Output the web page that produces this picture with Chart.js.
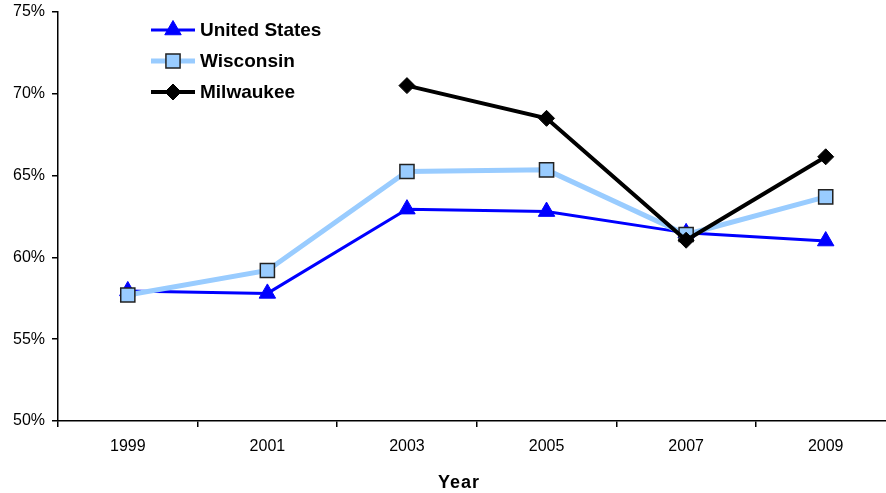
<!DOCTYPE html>
<html>
<head>
<meta charset="utf-8">
<script src="https://cdn.jsdelivr.net/npm/chart.js@4/dist/chart.umd.min.js"></script>
<style>
html,body{margin:0;padding:0;background:#fff;overflow:hidden;width:886px;height:493px;}
#wrap{width:907px;height:493px;}
</style>
</head>
<body>
<div id="wrap"><canvas id="c" width="907" height="493" style="width:907px;height:493px"></canvas></div>
<script>
const years = ['1999','2001','2003','2005','2007','2009'];
const unitedStates = [57.95, 57.8, 62.95, 62.8, 61.5, 61.0];
const wisconsin = [57.7, 59.2, 65.25, 65.35, 61.4, 63.7];
const milwaukee = [null, null, 70.5, 68.5, 61.05, 66.15];
const yTicks = [50, 55, 60, 65, 70, 75];
const xTitle = 'Year';

const FONT = '"Liberation Sans", Arial, sans-serif';

const legendPlugin = {
  id: 'customLegend',
  afterDraw(chart) {
    const ctx = chart.ctx;
    const rows = [30, 61, 92];
    chart.data.datasets.forEach((ds, i) => {
      const y = rows[i];
      ctx.save();
      ctx.strokeStyle = ds.borderColor;
      ctx.lineWidth = ds.borderWidth;
      ctx.beginPath();
      ctx.moveTo(151, y);
      ctx.lineTo(195, y);
      ctx.stroke();
      ctx.fillStyle = ds.pointBackgroundColor;
      ctx.strokeStyle = ds.pointBorderColor;
      ctx.lineWidth = ds.pointBorderWidth;
      Chart.helpers.drawPoint(ctx, {pointStyle: ds.pointStyle, radius: ds.pointRadius, rotation: 0, borderWidth: ds.pointBorderWidth}, 173, y);
      ctx.fillStyle = '#000';
      ctx.font = 'bold 19px ' + FONT;
      ctx.textAlign = 'left';
      ctx.textBaseline = 'middle';
      ctx.fillText(ds.label, 200, y + 1);
      ctx.restore();
    });
    ctx.save();
    ctx.fillStyle = '#000';
    ctx.font = 'bold 18px ' + FONT;
    ctx.textAlign = 'center';
    ctx.textBaseline = 'middle';
    try { ctx.letterSpacing = '1px'; } catch (e) {}
    ctx.fillText(xTitle, 459, 483);
    ctx.restore();
  }
};

new Chart(document.getElementById('c'), {
  type: 'line',
  data: {
    labels: years,
    datasets: [
      {
        label: 'United States', data: unitedStates,
        borderColor: '#0000FF', borderWidth: 3,
        pointStyle: 'triangle', pointRadius: 9.5,
        pointBackgroundColor: '#0000FF', pointBorderColor: '#0000FF', pointBorderWidth: 1,
        tension: 0, order: 2
      },
      {
        label: 'Wisconsin', data: wisconsin,
        borderColor: '#99CCFF', borderWidth: 5,
        pointStyle: 'rect', pointRadius: 10,
        pointBackgroundColor: '#99CCFF', pointBorderColor: '#222', pointBorderWidth: 1.5,
        tension: 0, order: 1
      },
      {
        label: 'Milwaukee', data: milwaukee,
        borderColor: '#000000', borderWidth: 4,
        pointStyle: 'rectRot', pointRadius: 8,
        pointBackgroundColor: '#000000', pointBorderColor: '#000000', pointBorderWidth: 1,
        tension: 0, spanGaps: false, order: 0
      }
    ]
  },
  options: {
    responsive: false,
    animation: false,
    devicePixelRatio: 1,
    layout: {padding: {top: 12, left: 0, right: 4, bottom: 0}},
    plugins: {legend: {display: false}, tooltip: {enabled: false}, title: {display: false}},
    scales: {
      x: {
        type: 'category',
        offset: true,
        grid: {offset: true, drawOnChartArea: false, drawTicks: true, tickLength: 6, color: '#000', lineWidth: 1.5},
        border: {color: '#000', width: 1.5},
        ticks: {color: '#000', font: {family: FONT, size: 16}, padding: 10, maxRotation: 0},
        afterFit(s) { s.height = 72; s.paddingLeft = 0; s.paddingRight = 0; }
      },
      y: {
        min: 50, max: 75,
        afterBuildTicks(s) { s.ticks = yTicks.map(v => ({value: v})); },
        grid: {drawOnChartArea: false, drawTicks: true, tickLength: 6, color: '#000', lineWidth: 1.5},
        border: {color: '#000', width: 1.5},
        ticks: {color: '#000', font: {family: FONT, size: 16}, padding: 7, callback: v => v + '%'},
        afterFit(s) { s.width = 58; s.paddingTop = 0; s.paddingBottom = 0; }
      }
    }
  },
  plugins: [legendPlugin]
});
</script>
</body>
</html>
